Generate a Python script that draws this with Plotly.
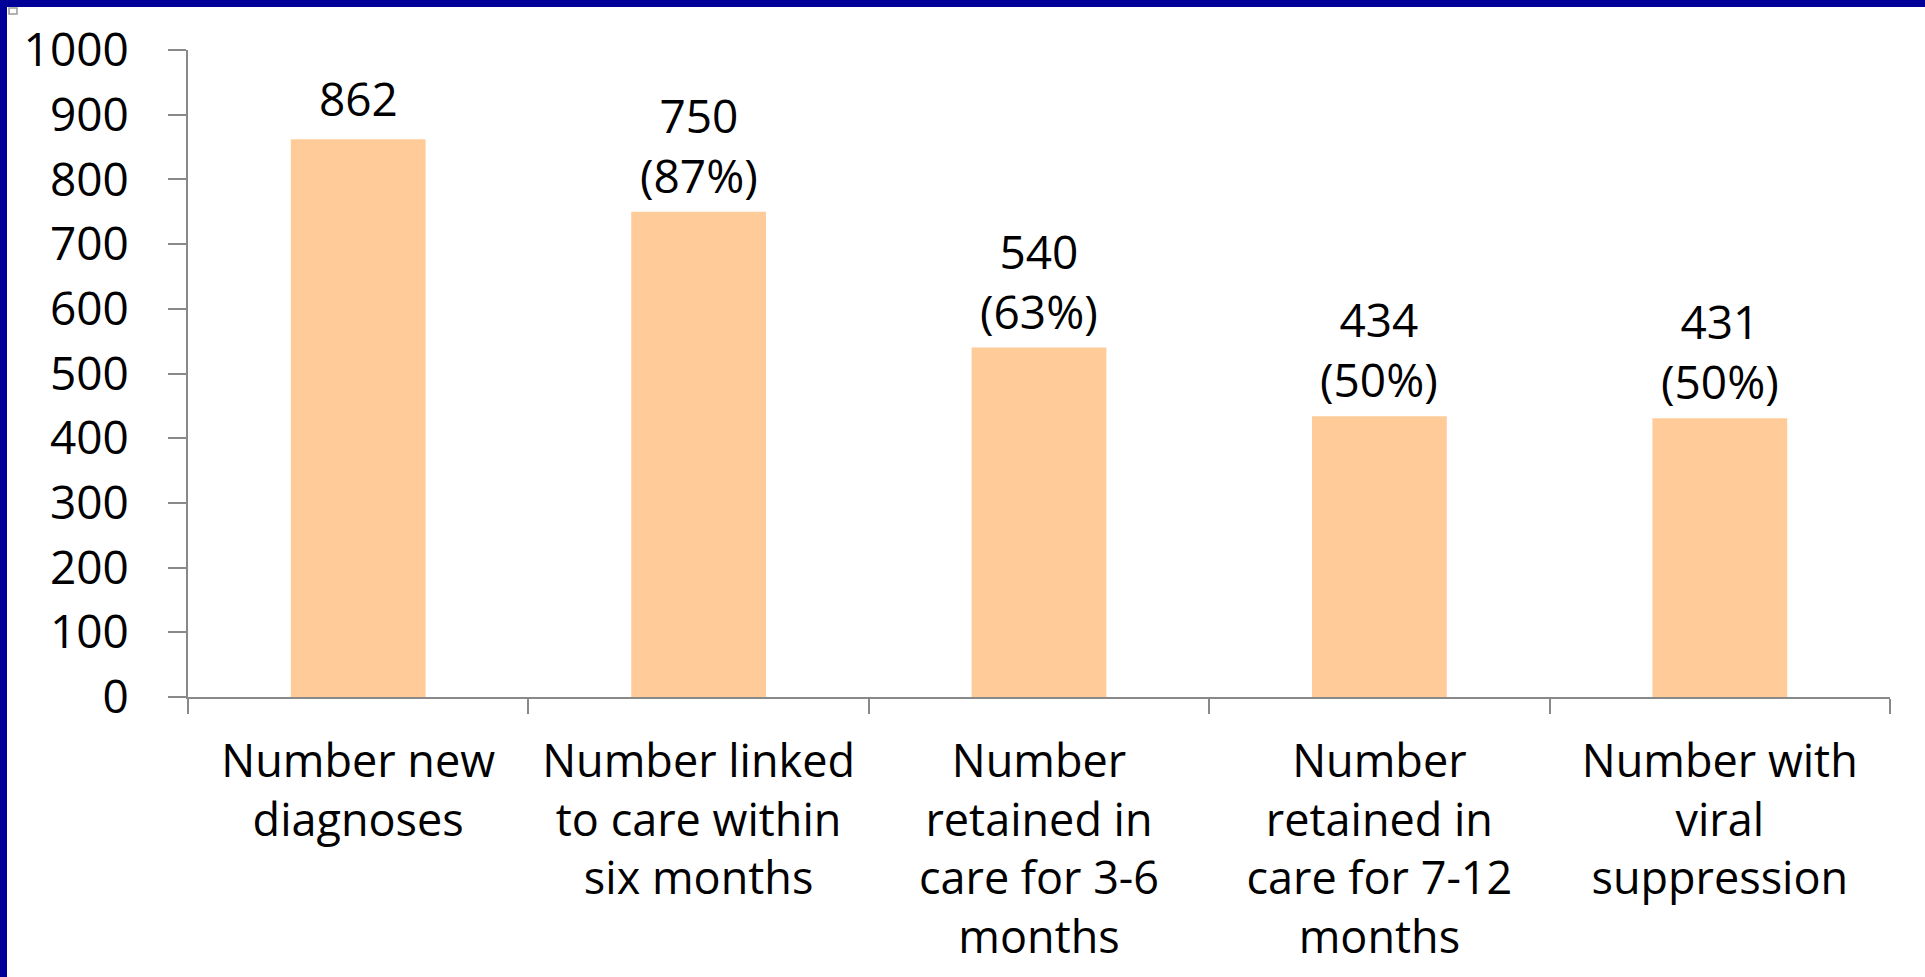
import plotly.graph_objects as go

categories = [
    "Number new<br>diagnoses",
    "Number linked<br>to care within<br>six months",
    "Number<br>retained in<br>care for 3-6<br>months",
    "Number<br>retained in<br>care for 7-12<br>months",
    "Number with<br>viral<br>suppression",
]
values = [862, 750, 540, 434, 431]
pct_labels = ["", "(87%)", "(63%)", "(50%)", "(50%)"]
y_ticks = [0, 100, 200, 300, 400, 500, 600, 700, 800, 900, 1000]

W, H = 1925, 977
L, R, T, B = 188, 35, 50, 280
PW, PH = W - L - R, H - T - B

def px_x(p):
    return (p - L) / PW

def px_y(p):
    return (H - B - p) / PH

FONT = "Open Sans"
AXIS = "#898989"

fig = go.Figure()
fig.add_trace(go.Bar(
    x=categories, y=values,
    marker=dict(color="#FFCC99", line=dict(width=0)),
    hoverinfo="skip",
))

for c, v, p in zip(categories, values, pct_labels):
    txt = f"{v}" + (f"<br>{p}" if p else "")
    fig.add_annotation(x=c, y=v, xref="x", yref="y", text=txt,
                       showarrow=False, yanchor="bottom",
                       yshift=4 if p else 8,
                       font=dict(family=FONT, size=46, color="black"))

# blue frame at top and left
fig.add_shape(type="rect", xref="paper", yref="paper",
              x0=px_x(0), x1=px_x(W), y0=px_y(7), y1=px_y(0),
              fillcolor="#000099", line=dict(width=0), layer="above")
fig.add_shape(type="rect", xref="paper", yref="paper",
              x0=px_x(0), x1=px_x(7), y0=px_y(H), y1=px_y(0),
              fillcolor="#000099", line=dict(width=0), layer="above")
# small handle square
fig.add_shape(type="rect", xref="paper", yref="paper",
              x0=px_x(9), x1=px_x(17), y0=px_y(14), y1=px_y(8),
              fillcolor="white", line=dict(width=1.5, color="#999999"), layer="above")

fig.update_layout(
    width=W, height=H,
    margin=dict(l=L, r=R, t=T, b=B, pad=0),
    paper_bgcolor="white", plot_bgcolor="white",
    bargap=0.604, showlegend=False,
    font=dict(family=FONT, color="black"),
)
fig.update_xaxes(
    showline=True, linecolor=AXIS, linewidth=2,
    ticks="outside", tickson="boundaries", ticklen=15, tickwidth=2, tickcolor=AXIS,
    tickfont=dict(family=FONT, size=45, color="black"),
    ticklabelstandoff=24,
    showgrid=False, zeroline=False, fixedrange=True,
)
fig.update_yaxes(
    range=[0, 1000], tickvals=y_ticks, ticktext=[str(t) for t in y_ticks],
    showline=True, linecolor=AXIS, linewidth=2,
    ticks="outside", ticklen=18, tickwidth=2, tickcolor=AXIS,
    tickfont=dict(family=FONT, size=46, color="black"),
    ticklabelstandoff=30,
    showgrid=False, zeroline=False, fixedrange=True,
)

fig.write_html(
    "out.html",
    config={"displayModeBar": False},
    post_script="document.body.style.margin='0';document.body.style.overflow='hidden';",
)
